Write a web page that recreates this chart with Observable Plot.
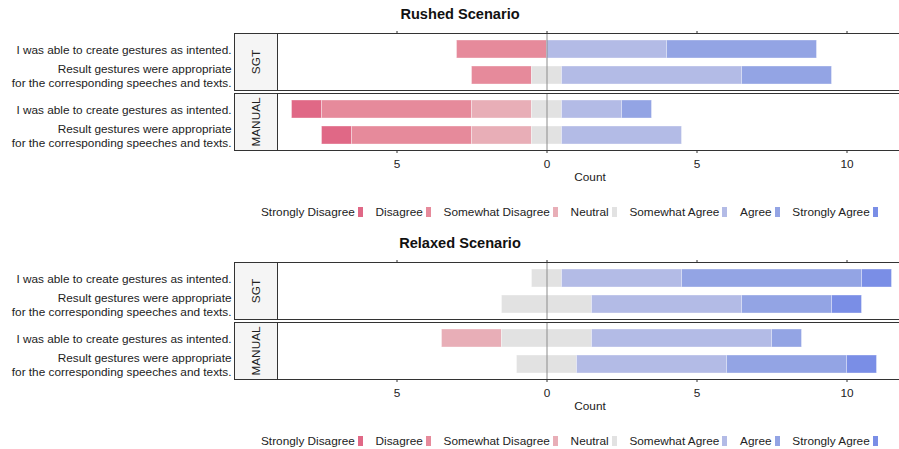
<!DOCTYPE html>
<html>
<head>
<meta charset="utf-8">
<script src="https://cdn.jsdelivr.net/npm/d3@7"></script>
<script src="https://cdn.jsdelivr.net/npm/@observablehq/plot@0.6"></script>
<style>
  html, body { margin: 0; padding: 0; background: #fff; overflow: hidden; width: 899px; height: 449px; }
  body { font-family: "Liberation Sans", Arial, Helvetica, sans-serif; color: #222; }
  .block { height: 229px; position: relative; }
  .title { width: 920px; text-align: center; font-weight: bold; font-size: 14.6px; height: 28px; line-height: 28px; color: #111; }
  .legend { display: flex; align-items: center; padding-left: 261px; margin-top: 14px; height: 14px; font-size: 11.8px; white-space: nowrap; }
  .item { display: flex; align-items: center; margin-right: 12.8px; }
  .sw { display: inline-block; width: 5px; height: 10px; margin-left: 3px; }
  svg { display: block; max-width: none !important; }
</style>
</head>
<body>
<div id="chart"></div>
<script>
const levels = ["Strongly Disagree", "Disagree", "Somewhat Disagree", "Neutral", "Somewhat Agree", "Agree", "Strongly Agree"];
const colors = ["#e06886", "#e68a9b", "#e8aeb7", "#e2e2e2", "#b3bbe6", "#93a4e4", "#7a8ee6"];
const questions = ["I was able to create gestures as intented.", "Result gestures were appropriate\nfor the corresponding speeches and texts."];
const groups = ["SGT", "MANUAL"];
const xTicks = [-5, 0, 5, 10];

// counts per level (order of `levels`), one row per question
const rushedSGT = [[0, 3, 0, 0, 4, 5, 0], [0, 2, 0, 1, 6, 3, 0]];
const rushedMANUAL = [[1, 5, 2, 1, 2, 1, 0], [1, 4, 2, 1, 4, 0, 0]];
const relaxedSGT = [[0, 0, 0, 1, 4, 6, 1], [0, 0, 0, 3, 5, 3, 1]];
const relaxedMANUAL = [[0, 0, 2, 3, 6, 1, 0], [0, 0, 0, 2, 5, 4, 1]];

function segments(byGroup) {
  const out = [];
  groups.forEach((g, gi) => {
    byGroup[gi].forEach((counts, qi) => {
      let start = -(counts[0] + counts[1] + counts[2]) - counts[3] / 2;
      counts.forEach((c, li) => {
        if (c > 0) out.push({group: g, question: questions[qi], level: levels[li], x1: start, x2: start + c});
        start += c;
      });
    });
  });
  return out;
}

const W = 902, ML = 277, MR = 0;
const plotW = W - ML - MR;
const x0px = 546.5, pxPerUnit = 30;
const xDomain = [-(x0px - ML) / pxPerUnit, (W - MR - x0px) / pxPerUnit];

function makeBlock(title, byGroup) {
  const div = document.createElement("div");
  div.className = "block";
  const t = document.createElement("div");
  t.className = "title";
  t.textContent = title;
  div.appendChild(t);
  const segs = segments(byGroup);
  const svg = Plot.plot({
    width: W, height: 163,
    marginLeft: ML, marginRight: MR, marginTop: 4, marginBottom: 40,
    style: {fontFamily: '"Liberation Sans", Arial, sans-serif', fontSize: "11.8px", color: "#222", background: "white", overflow: "visible"},
    x: {domain: xDomain},
    y: {domain: questions, paddingInner: 0.31, paddingOuter: 0.25},
    fy: {domain: groups, paddingInner: 0.043, paddingOuter: 0, axis: null},
    color: {domain: levels, range: colors},
    marks: [
      Plot.frame({insetLeft: -43, insetRight: plotW, fill: "#f5f5f5", stroke: "#333"}),
      Plot.barX(segs, {x1: "x1", x2: "x2", y: "question", fy: "group", fill: "level", stroke: "white", strokeOpacity: 0.35, strokeWidth: 1}),
      Plot.ruleX([0], {stroke: "#8c8c8c", strokeWidth: 1}),
      Plot.frame({stroke: "#333"}),
      Plot.text(groups, {fy: d => d, text: d => d, frameAnchor: "left", textAnchor: "middle", lineAnchor: "middle", dx: -21.5, rotate: -90, fontSize: 11.8, fill: "#222"}),
      Plot.axisY({tickSize: 0, tickPadding: 3, dx: -43, lineHeight: 1.2, fontSize: 11.8, fill: "#222", label: null}),
      Plot.axisX({anchor: "top", ticks: xTicks, tickSize: 3, tickFormat: () => "", label: null, stroke: "#333"}),
      Plot.axisX({anchor: "bottom", ticks: xTicks, tickSize: 3, tickFormat: d => Math.abs(d), label: "Count", labelAnchor: "center", labelArrow: "none", labelOffset: 30, fontSize: 11.8, fill: "#222", stroke: "#333"})
    ]
  });
  div.appendChild(svg);
  const lg = document.createElement("div");
  lg.className = "legend";
  levels.forEach((l, i) => {
    const it = document.createElement("span");
    it.className = "item";
    it.appendChild(document.createTextNode(l));
    const sw = document.createElement("span");
    sw.className = "sw";
    sw.style.background = colors[i];
    it.appendChild(sw);
    lg.appendChild(it);
  });
  div.appendChild(lg);
  return div;
}

const chart = document.getElementById("chart");
chart.appendChild(makeBlock("Rushed Scenario", [rushedSGT, rushedMANUAL]));
chart.appendChild(makeBlock("Relaxed Scenario", [relaxedSGT, relaxedMANUAL]));
</script>
</body>
</html>
